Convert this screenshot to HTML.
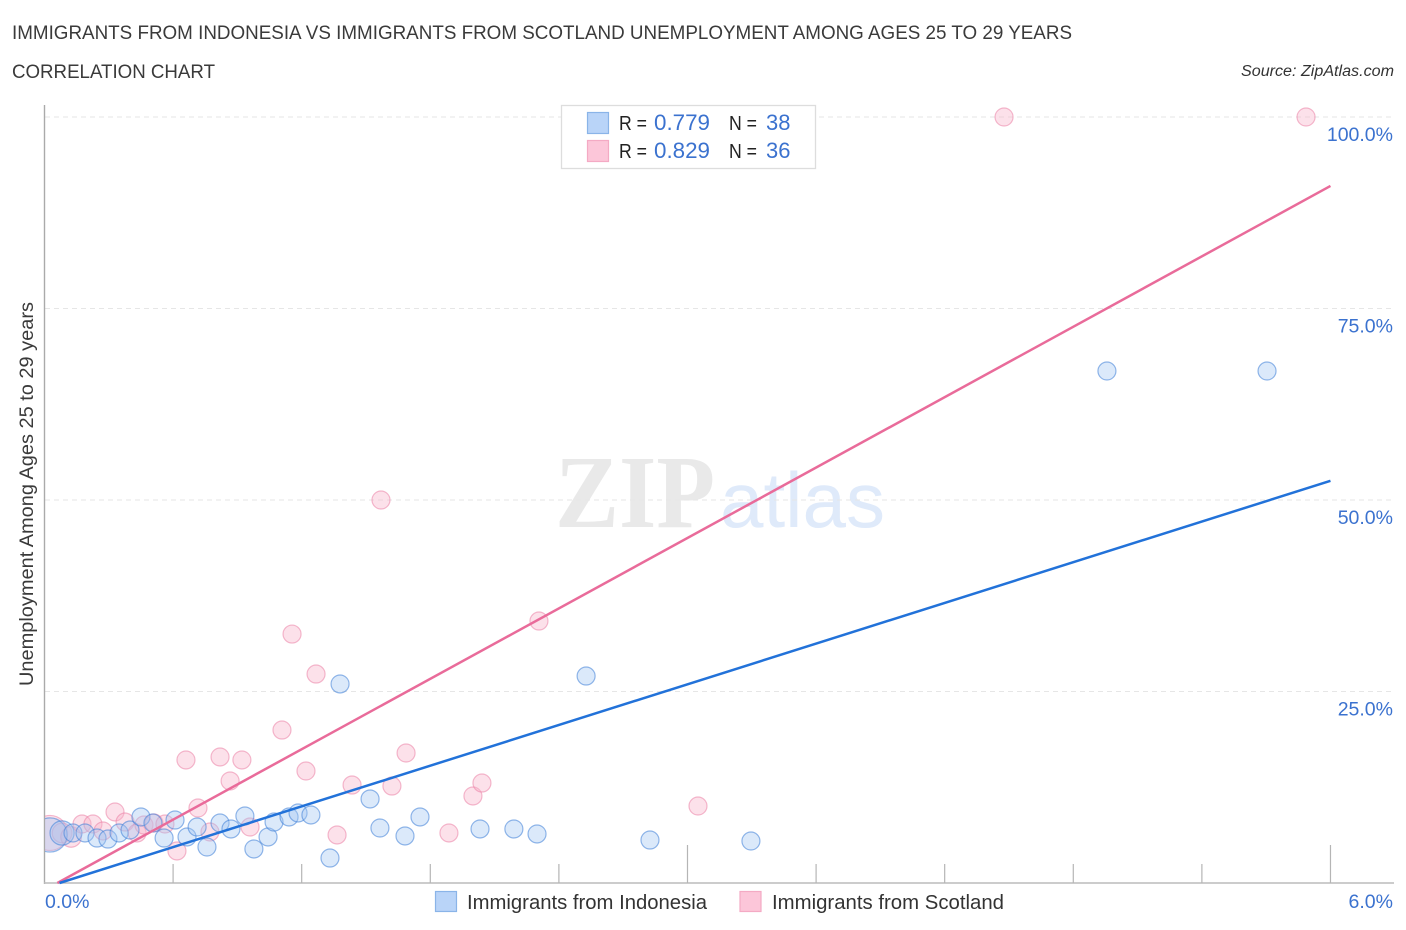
<!DOCTYPE html>
<html>
<head>
<meta charset="utf-8">
<title>Correlation Chart</title>
<style>
html,body{margin:0;padding:0;background:#fff;width:1406px;height:930px;overflow:hidden}
svg{display:block;font-family:"Liberation Sans",sans-serif}
</style>
</head>
<body>
<svg id="chart" width="1406" height="930" viewBox="0 0 1406 930" xmlns="http://www.w3.org/2000/svg">
  <defs><clipPath id="plot-clip"><rect x="45" y="100" width="1349" height="783"/></clipPath></defs>
  <text x="12" y="39" font-size="19" fill="#3a3a3a" textLength="1060" lengthAdjust="spacingAndGlyphs">IMMIGRANTS FROM INDONESIA VS IMMIGRANTS FROM SCOTLAND UNEMPLOYMENT AMONG AGES 25 TO 29 YEARS</text>
  <text x="12" y="78" font-size="19" fill="#3a3a3a" textLength="203" lengthAdjust="spacingAndGlyphs">CORRELATION CHART</text>
  <text x="1241" y="76" font-size="15.5" font-style="italic" fill="#333" textLength="153" lengthAdjust="spacingAndGlyphs">Source: ZipAtlas.com</text>
  <text x="555" y="527" font-size="104" font-weight="bold" fill="#e9e9e9" style="font-family:'Liberation Serif',serif" textLength="160" lengthAdjust="spacingAndGlyphs">ZIP</text>
  <text x="720" y="527" font-size="78" fill="#dfeafa" style="font-family:'Liberation Sans',sans-serif" textLength="165" lengthAdjust="spacingAndGlyphs">atlas</text>
  <g id="grid"></g>
  <g id="axes"></g>
  <g id="points" clip-path="url(#plot-clip)"></g>
  <g id="trends"></g>
  <text transform="translate(33,686) rotate(-90)" font-size="19" fill="#3a3a3a" textLength="384" lengthAdjust="spacingAndGlyphs">Unemployment Among Ages 25 to 29 years</text>

  <g>
    <rect x="561.5" y="105.5" width="254" height="63" fill="#fff" stroke="#ddd" stroke-width="1.3"/>
    <rect x="587.5" y="112.5" width="21" height="21" fill="#b9d4f8" stroke="#8ab4e8" stroke-width="1.2"/>
    <rect x="587.5" y="140.5" width="21" height="21" fill="#fcc6d9" stroke="#f4aac4" stroke-width="1.2"/>
    <text x="619" y="130" font-size="20" fill="#222" textLength="28" lengthAdjust="spacingAndGlyphs">R =</text>
    <text x="654" y="130" font-size="22" fill="#3b72cf" textLength="56" lengthAdjust="spacingAndGlyphs">0.779</text>
    <text x="729" y="130" font-size="20" fill="#222" textLength="28" lengthAdjust="spacingAndGlyphs">N =</text>
    <text x="766" y="130" font-size="22" fill="#3b72cf">38</text>
    <text x="619" y="158" font-size="20" fill="#222" textLength="28" lengthAdjust="spacingAndGlyphs">R =</text>
    <text x="654" y="158" font-size="22" fill="#3b72cf" textLength="56" lengthAdjust="spacingAndGlyphs">0.829</text>
    <text x="729" y="158" font-size="20" fill="#222" textLength="28" lengthAdjust="spacingAndGlyphs">N =</text>
    <text x="766" y="158" font-size="22" fill="#3b72cf">36</text>
  </g>

  <g>
    <rect x="435.5" y="891.5" width="21" height="20" fill="#b9d4f8" stroke="#8ab4e8" stroke-width="1.2"/>
    <text x="467" y="909" font-size="20" fill="#333" textLength="240" lengthAdjust="spacingAndGlyphs">Immigrants from Indonesia</text>
    <rect x="740" y="891.5" width="21" height="20" fill="#fcc6d9" stroke="#f4aac4" stroke-width="1.2"/>
    <text x="772" y="909" font-size="20" fill="#333" textLength="232" lengthAdjust="spacingAndGlyphs">Immigrants from Scotland</text>
  </g>
</svg>

<script>
const yTickValues = [25, 50, 75, 100];
const yTickLabels = ["25.0%", "50.0%", "75.0%", "100.0%"];
const xTickValues = [0.6, 1.2, 1.8, 2.4, 3.0, 3.6, 4.2, 4.8, 5.4, 6.0];
const xMajorTicks = [3.0, 6.0];
const xEndValues = [0, 6];
const xEndLabels = ["0.0%", "6.0%"];

const indonesiaX = [0.026,0.082,0.133,0.189,0.245,0.296,0.348,0.399,0.450,0.506,0.609,0.558,0.665,0.712,0.758,0.819,0.870,0.935,0.977,1.043,1.071,1.141,1.183,1.243,1.332,1.519,1.565,1.682,1.752,2.032,2.190,2.298,2.825,3.296,1.379,2.527,4.957,5.704];
const indonesiaY = [6.27,6.53,6.53,6.53,5.87,5.74,6.53,6.92,8.62,7.83,8.22,5.87,6.01,7.31,4.70,7.83,7.05,8.75,4.44,6.01,7.96,8.62,9.14,8.88,3.26,10.97,7.18,6.14,8.62,7.05,7.05,6.40,5.61,5.48,25.98,27.02,66.84,66.84];
const indonesiaWeight = [3.6,1.8,1,1,1,1,1,1,1,1,1,1,1,1,1,1,1,1,1,1,1,1,1,1,1,1,1,1,1,1,1,1,1,1,1,1,1,1];

const scotlandX = [0.026,0.082,0.124,0.175,0.226,0.273,0.329,0.376,0.432,0.464,0.511,0.562,0.618,0.716,0.772,0.959,0.660,0.819,0.921,0.866,1.220,1.365,1.435,1.621,1.687,1.999,2.041,1.887,3.049,4.477,5.886,1.570,1.155,1.267,1.108,2.307];
const scotlandY = [6.53,6.53,6.01,7.70,7.70,6.79,9.27,7.96,6.53,7.57,7.83,7.70,4.18,9.79,6.66,7.31,16.06,16.45,16.06,13.32,14.62,6.27,12.79,12.66,16.97,11.36,13.05,6.53,10.05,100,100,50,32.5,27.28,19.97,34.2];
const scotlandWeight = [3.8,1.2,1.3,1,1,1,1,1,1,1,1,1,1,1,1,1,1,1,1,1,1,1,1,1,1,1,1,1,1,1,1,1,1,1,1,1];

const indonesiaTrendX = [0.07, 6];
const indonesiaTrendY = [0, 52.5];
const scotlandTrendX = [0.06, 6];
const scotlandTrendY = [0, 91];

const NS = "http://www.w3.org/2000/svg";
function xScale(v) { return 44.5 + v * 214.33; }
function yScale(v) { return 883 - v * 7.66; }
function make(tag, attrs, parent) {
  const el = document.createElementNS(NS, tag);
  for (const k in attrs) el.setAttribute(k, attrs[k]);
  parent.appendChild(el);
  return el;
}

const grid = document.getElementById("grid");
const axes = document.getElementById("axes");
const points = document.getElementById("points");
const trends = document.getElementById("trends");

yTickValues.forEach(function (v, i) {
  const line = make("line", {x1: 45, x2: 1392, y1: yScale(v), y2: yScale(v), stroke: "#e6e6e6", "stroke-width": 1, "stroke-dasharray": "5 4"}, grid);
  
  
  const label = make("text", {x: 1393, y: yScale(v) + 24, "text-anchor": "end", "font-size": 19.5, fill: "#3b72cf"}, axes);
  
  
  label.textContent = yTickLabels[i];
});

const yAxis = make("line", {x1: 44.5, x2: 44.5, y1: 105, y2: 884, stroke: "#aaa", "stroke-width": 1.4}, axes);


const xAxis = make("line", {x1: 44, x2: 1394, y1: 883, y2: 883, stroke: "#bbb", "stroke-width": 1.4}, axes);



xTickValues.forEach(function (v) {
  const top = xMajorTicks.indexOf(v) >= 0 ? 845 : 864;
  const tick = make("line", {x1: xScale(v), x2: xScale(v), y1: top, y2: 883, stroke: "#b5b5b5", "stroke-width": 1.2}, axes);
  
  
});

xEndValues.forEach(function (v, i) {
  const anchor = i === 0 ? "start" : "end";
  const px = i === 0 ? xScale(v) + 0.5 : 1393;
  const label = make("text", {x: px, y: 908, "text-anchor": anchor, "font-size": 19.5, fill: "#3b72cf"}, axes);
  
  
  label.textContent = xEndLabels[i];
});

function drawSeries(xs, ys, weights, fill, stroke, name) {
  xs.forEach(function (x, i) {
    const c = make("circle", {cx: xScale(x), cy: yScale(ys[i]), r: 9 * Math.sqrt(weights[i]), fill: fill, stroke: stroke, "stroke-width": 1.2}, points);
    
    
  });
}
drawSeries(scotlandX, scotlandY, scotlandWeight, "rgba(248,180,203,0.4)", "rgba(235,130,165,0.55)", "scotland-point");
drawSeries(indonesiaX, indonesiaY, indonesiaWeight, "rgba(160,196,242,0.38)", "rgba(60,125,215,0.55)", "indonesia-point");

const pinkLine = make("line", {x1: xScale(scotlandTrendX[0]), y1: yScale(scotlandTrendY[0]), x2: xScale(scotlandTrendX[1]), y2: yScale(scotlandTrendY[1]), stroke: "#e96b9a", "stroke-width": 2.5}, trends);


const blueLine = make("line", {x1: xScale(indonesiaTrendX[0]), y1: yScale(indonesiaTrendY[0]), x2: xScale(indonesiaTrendX[1]), y2: yScale(indonesiaTrendY[1]), stroke: "#2272d9", "stroke-width": 2.5}, trends);


</script>
</body>
</html>
